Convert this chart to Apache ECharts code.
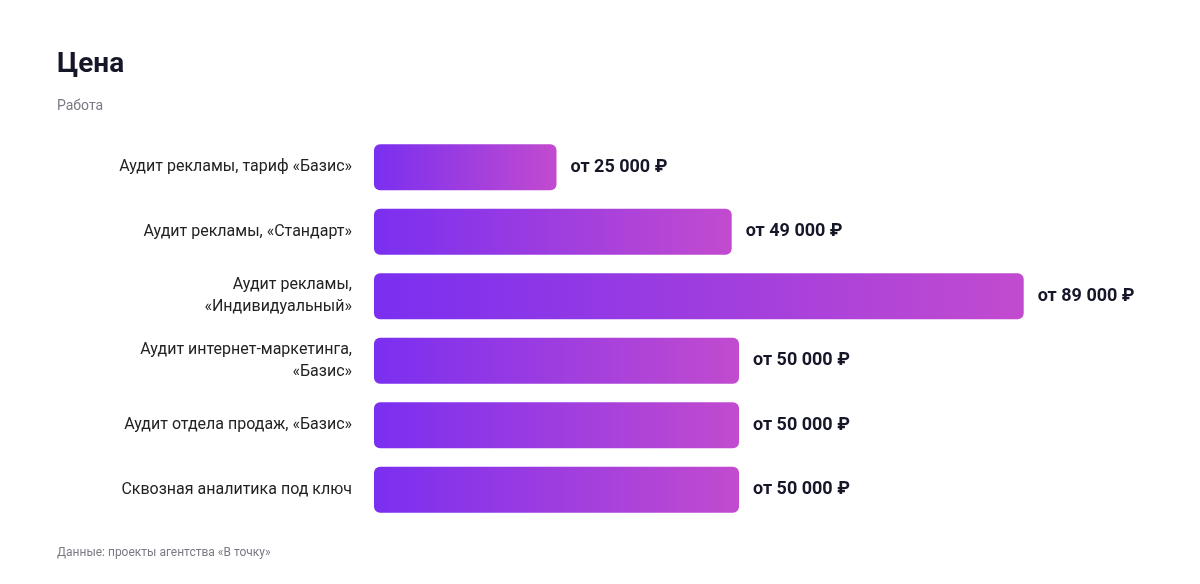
<!DOCTYPE html>
<html><head><meta charset="utf-8">
<script src="https://cdn.jsdelivr.net/npm/echarts@6/dist/echarts.min.js"></script>
<style>html,body{margin:0;padding:0;background:#fff}#c{width:1200px;height:584px}</style>
</head><body><div id="c"></div>
<script>
const categories = ["Аудит рекламы, тариф «Базис»","Аудит рекламы, «Стандарт»","Аудит рекламы,\n«Индивидуальный»","Аудит интернет-маркетинга,\n«Базис»","Аудит отдела продаж, «Базис»","Сквозная аналитика под ключ"];
const values = [25000,49000,89000,50000,50000,50000];
const fmt = v => "от " + String(v).replace(/\B(?=(\d{3})+(?!\d))/g, " ") + " ₽";
const chart = echarts.init(document.getElementById('c'));
chart.setOption({
  textStyle:{fontFamily:"Roboto, 'Noto Sans', sans-serif"},
  title:[
    {text:"Цена",left:52,top:46,textStyle:{fontSize:28,fontWeight:'bold',color:'#161629'}},
    {text:"Работа",left:52,top:94,textStyle:{fontSize:14,fontWeight:'normal',color:'#7a7a85'}},
    {text:"Данные: проекты агентства «В точку»",left:52,top:542,textStyle:{fontSize:12,fontWeight:'normal',color:'#7a7a85'}}
  ],
  grid:{left:374,right:96,top:135,bottom:62,containLabel:false},
  xAxis:{type:'value',min:0,max:100000,show:false},
  yAxis:{type:'category',inverse:true,data:categories,axisLine:{show:false},axisTick:{show:false},
    axisLabel:{fontSize:16,color:'#222',margin:22,lineHeight:22,align:'right'}},
  series:[{type:'bar',data:values,barWidth:46,
    itemStyle:{borderRadius:6,color:new echarts.graphic.LinearGradient(0,0,1,0,[{offset:0,color:'#7a2ff0'},{offset:1,color:'#c24bcf'}])},
    label:{show:true,position:'right',distance:14,formatter:p=>fmt(p.value),fontSize:18,fontWeight:'bold',color:'#161629'}}]
});
</script></body></html>
